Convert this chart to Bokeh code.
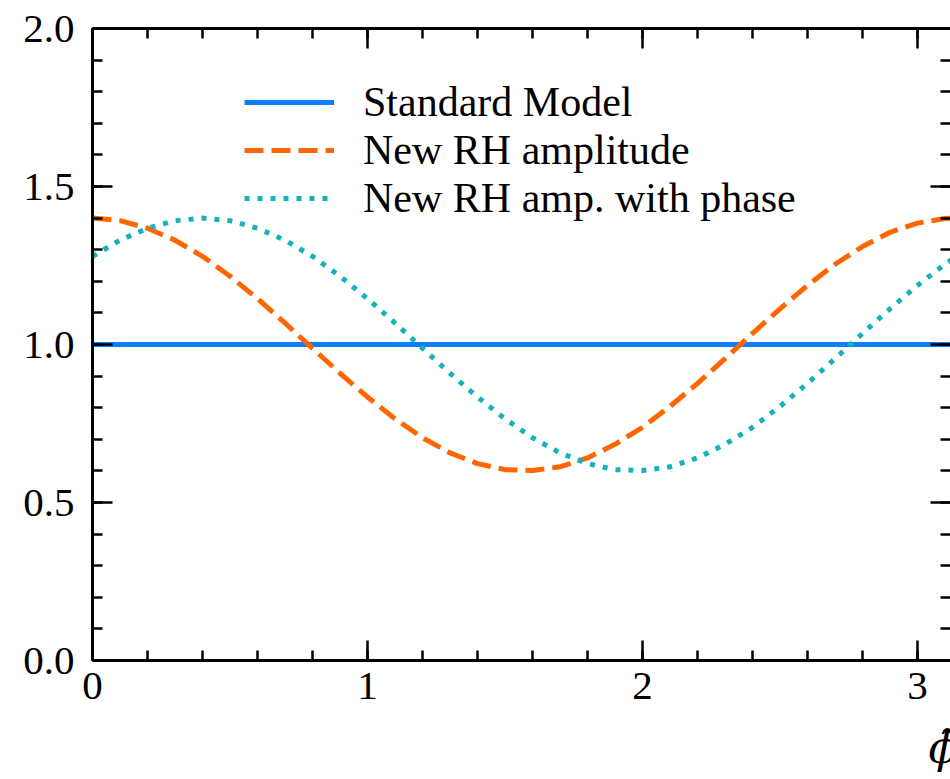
from bokeh.plotting import figure
from bokeh.models import Range1d, LinearAxis, FixedTicker, Legend, LegendItem, CustomJSTickFormatter
from bokeh.embed import file_html
from bokeh.resources import INLINE

# ---- data ----
phi = [0.0, 0.1, 0.2, 0.3, 0.4, 0.5, 0.6, 0.7, 0.8, 0.9, 1.0, 1.1, 1.2, 1.3, 1.4, 1.5,
       1.6, 1.7, 1.8, 1.9, 2.0, 2.1, 2.2, 2.3, 2.4, 2.5, 2.6, 2.7, 2.8, 2.9, 3.0, 3.1, 3.14]
standard_model = [1.0] * len(phi)
new_rh_amplitude = [1.400, 1.392, 1.368, 1.330, 1.279, 1.216, 1.145, 1.068, 0.988, 0.909,
                    0.834, 0.765, 0.705, 0.657, 0.623, 0.604, 0.601, 0.613, 0.641, 0.684,
                    0.738, 0.804, 0.877, 0.955, 1.035, 1.113, 1.187, 1.254, 1.310, 1.355,
                    1.384, 1.399, 1.400]
new_rh_phase = [1.279, 1.330, 1.368, 1.392, 1.400, 1.392, 1.368, 1.330, 1.279, 1.216,
                1.145, 1.068, 0.988, 0.909, 0.834, 0.765, 0.705, 0.657, 0.623, 0.604,
                0.601, 0.613, 0.641, 0.684, 0.738, 0.804, 0.877, 0.955, 1.035, 1.113,
                1.187, 1.254, 1.278]
x_ticks = [0, 1, 2, 3]
y_ticks = [0.0, 0.5, 1.0, 1.5, 2.0]
labels = ["Standard Model", "New RH amplitude", "New RH amp. with phase"]
x_label = "\u03d5\u0303\u00a0"

FONT = "Liberation Serif"
FS = "41px"

p = figure(width=950, height=779, x_range=Range1d(0, 3.12), y_range=Range1d(0, 2),
           output_backend="svg", toolbar_location=None,
           min_border_left=92, min_border_right=0, min_border_top=28, min_border_bottom=119)
p.grid.visible = False
p.outline_line_color = None
p.background_fill_color = "white"
p.border_fill_color = "white"

bottom = p.below[0]
left = p.left[0]
top = LinearAxis()
right = LinearAxis()
p.add_layout(top, "above")
p.add_layout(right, "right")

for ax in [bottom, top]:
    ax.ticker = FixedTicker(ticks=x_ticks, minor_ticks=[i * 0.2 for i in range(0, 17)])
for ax in [left, right]:
    ax.ticker = FixedTicker(ticks=y_ticks, minor_ticks=[i * 0.1 for i in range(0, 21)])

for ax in [bottom, left, top, right]:
    ax.major_tick_in = 20
    ax.major_tick_out = 0
    ax.minor_tick_in = 10
    ax.minor_tick_out = 0
    ax.major_tick_line_width = 2.5
    ax.minor_tick_line_width = 2.5
    ax.major_tick_line_color = "black"
    ax.minor_tick_line_color = "black"
    ax.axis_line_width = 3
    ax.axis_line_color = "black"
    ax.major_label_text_font = FONT
    ax.major_label_text_font_size = FS
    ax.major_label_text_color = "black"

for ax in [top, right]:
    ax.formatter = CustomJSTickFormatter(code="return ''")
    ax.major_label_standoff = 0
right.axis_line_color = None

bottom.major_label_standoff = 12
left.major_label_standoff = 18
bottom.major_label_overrides = {0: "0", 1: "1", 2: "2", 3: "3"}
left.major_label_overrides = {0: "0.0", 0.5: "0.5", 1: "1.0", 1.5: "1.5", 2: "2.0"}

bottom.axis_label = x_label
bottom.axis_label_text_font = "DejaVu Serif"
bottom.axis_label_text_font_size = "44px"
bottom.axis_label_text_font_style = "italic"
bottom.axis_label_text_color = "black"
bottom.axis_label_standoff = 20
bottom.axis_label_align = "end"

r1 = p.line(phi, standard_model, line_color="#0d7ffb", line_width=5)
r2 = p.line(phi, new_rh_amplitude, line_color="#ff6600", line_width=5, line_dash="19 8")
r3 = p.line(phi, new_rh_phase, line_color="#14b2ba", line_width=5, line_dash="5 8")

legend = Legend(items=[LegendItem(label=labels[0], renderers=[r1]),
                       LegendItem(label=labels[1], renderers=[r2]),
                       LegendItem(label=labels[2], renderers=[r3])],
                location=(152, 438), padding=0, margin=0, spacing=0,
                glyph_width=90, glyph_height=24, label_standoff=29,
                label_text_font=FONT, label_text_font_size="42px", label_text_color="black",
                border_line_color=None, background_fill_alpha=0)
p.add_layout(legend, "center")

open("out.html", "w").write(file_html(p, INLINE))
